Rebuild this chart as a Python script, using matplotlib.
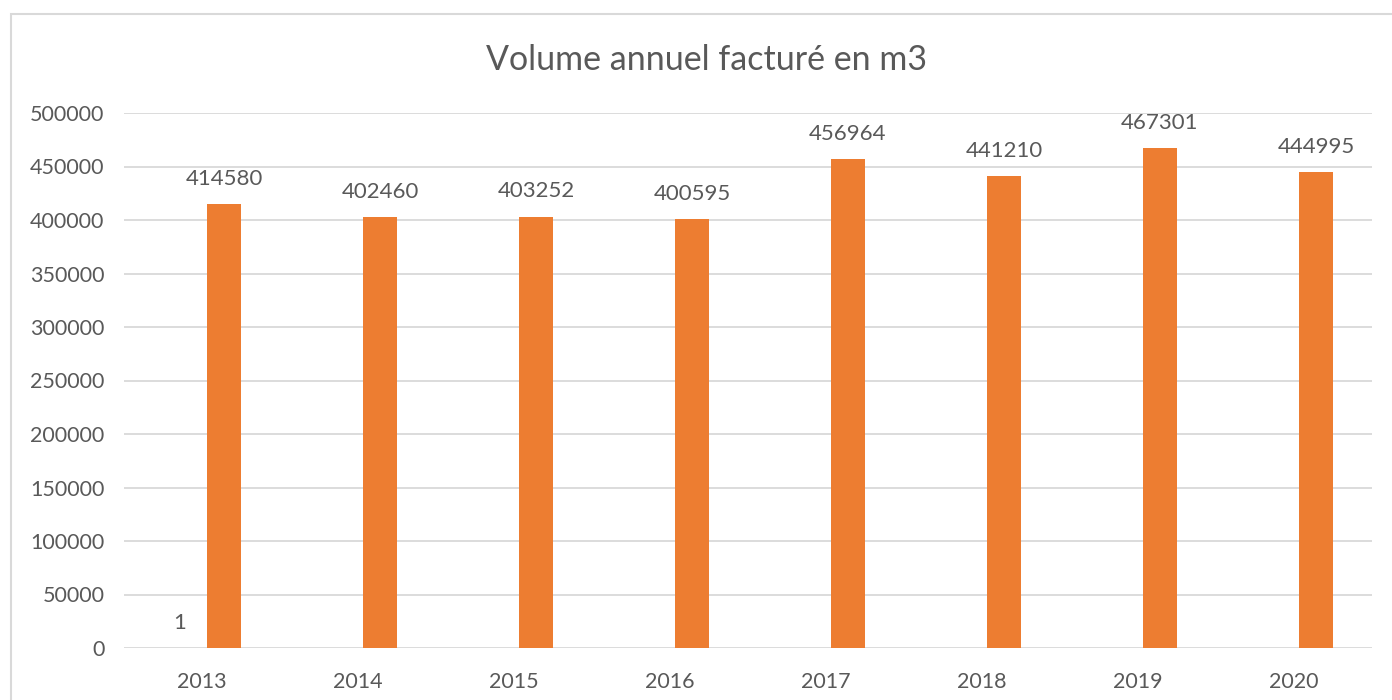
import numpy as np
import matplotlib.pyplot as plt
from matplotlib.patches import Rectangle

years = ["2013", "2014", "2015", "2016", "2017", "2018", "2019", "2020"]
volumes = [414580, 402460, 403252, 400595, 456964, 441210, 467301, 444995]
other_series = [1, None, None, None, None, None, None, None]

plt.rcParams['font.family'] = ['Lato', 'DejaVu Sans']
txt = "#595959"
orange = "#ED7D31"
grid = "#D9D9D9"

fig = plt.figure(figsize=(13.92, 7), dpi=100)
W, H = 1392, 700
ax = fig.add_axes([124 / W, 1 - 648 / H, (1372 - 124) / W, (648 - 113) / H])

x = np.arange(len(years))
off = 0.141
bw = 0.218
ax.bar(x + off, volumes, width=bw, color=orange, zorder=3)
for xi, v in zip(x, volumes):
    ax.annotate(str(v), (xi + off, v), xytext=(0, 11), textcoords="offset points",
                ha="center", va="bottom", fontsize=16, color=txt)
for xi, v in zip(x, other_series):
    if v is not None:
        ax.bar(xi - off, v, width=bw, color="#5B9BD5", zorder=3)
        ax.annotate(str(v), (xi - off, v), xytext=(0, 11), textcoords="offset points",
                    ha="center", va="bottom", fontsize=16, color=txt)

ax.set_xlim(-0.5, len(years) - 0.5)
ax.set_ylim(0, 500000)
ax.set_yticks(np.arange(0, 500001, 50000))
ax.set_yticklabels([str(v) for v in range(0, 500001, 50000)])
ax.set_xticks(x)
ax.set_xticklabels(years)
ax.tick_params(axis="both", length=0, labelsize=15.5, labelcolor=txt)
ax.tick_params(axis="y", pad=14)
ax.tick_params(axis="x", pad=17)
ax.grid(axis="y", color=grid, linewidth=1.3, zorder=0)
for s in ax.spines.values():
    s.set_visible(False)

fig.text(707 / W, 1 - 60 / H, "Volume annuel facturé en m3", ha="center", va="center",
         fontsize=24.5, color=txt)

fig.patches.append(Rectangle((11 / W, -0.1), 1.2, 1 - 14 / H + 0.1, transform=fig.transFigure,
                             fill=False, edgecolor="#D9D9D9", linewidth=1.5))

fig.savefig("out.png", dpi=100, facecolor="white")
